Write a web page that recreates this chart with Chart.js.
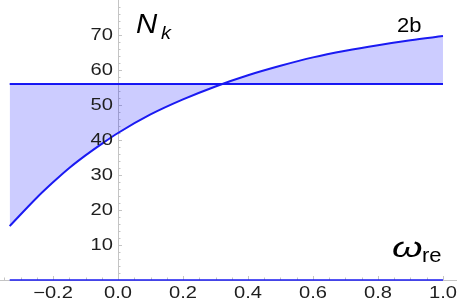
<!DOCTYPE html>
<html>
<head>
<meta charset="utf-8">
<script src="https://cdn.jsdelivr.net/npm/chart.js@4/dist/chart.umd.min.js"></script>
<style>
  html, body { margin: 0; padding: 0; background: #fff; }
  #wrap { width: 457px; height: 306px; }
</style>
</head>
<body>
<div id="wrap"><canvas id="grafico" width="457" height="306"></canvas></div>
<script>
// valores
const curveX = [-0.3333, -0.25, -0.2, -0.15, -0.1, -0.05, 0, 0.1, 0.2, 0.3, 0.4, 0.5, 0.6, 0.7, 0.8, 0.9, 1.0];
const curveN = [15.4, 23.5, 27.9, 32.0, 35.6, 38.9, 42.0, 47.3, 51.6, 55.3, 58.5, 61.2, 63.6, 65.5, 67.1, 68.5, 69.7];
const levelX = [-0.3333, 1.0];
const levelN = [56, 56];
const baseN = [0, 0];
const xTicks = [-0.2, 0, 0.2, 0.4, 0.6, 0.8, 1.0];
const xTickLabels = ["\u22120.2", "0.0", "0.2", "0.4", "0.6", "0.8", "1.0"];
const yTicks = [10, 20, 30, 40, 50, 60, 70];

const azul = "#1a1af2";
const preenchimento = "rgba(0, 0, 255, 0.2)";

// texto com esticamento horizontal (a figura original é mais larga)
function texto(c, s, x, y, font, align, sx) {
  c.save();
  c.translate(x, y);
  c.scale(sx, 1);
  c.font = font;
  c.textAlign = align;
  c.fillText(s, 0, 0);
  c.restore();
}

// eixos ao estilo Mathematica (cruzando na origem)
const eixos = {
  id: "eixos",
  beforeDatasetsDraw(chart) {
    const c = chart.ctx, xs = chart.scales.x, ys = chart.scales.y;
    const x0 = xs.getPixelForValue(0), y0 = ys.getPixelForValue(0);
    c.save();
    c.strokeStyle = "#c4c4c4";
    c.lineWidth = 1;
    c.beginPath();
    c.moveTo(Math.round(x0) + 0.5, 0);
    c.lineTo(Math.round(x0) + 0.5, y0);
    c.moveTo(0, Math.round(y0) + 0.5);
    c.lineTo(chart.width, Math.round(y0) + 0.5);
    // marcas do eixo y
    for (let v = 2; v < 80; v += 2) {
      const p = Math.round(ys.getPixelForValue(v)) + 0.5;
      const len = v % 10 === 0 ? 4 : 2.5;
      c.moveTo(x0, p);
      c.lineTo(x0 + len, p);
    }
    // marcas do eixo x
    for (let i = -7; i <= 20; i++) {
      const v = i * 0.05;
      const p = Math.round(xs.getPixelForValue(v)) + 0.5;
      const len = i % 4 === 0 ? 4 : 2.5;
      c.moveTo(p, y0);
      c.lineTo(p, y0 - len);
    }
    c.stroke();
    c.restore();
  },
  afterDatasetsDraw(chart) {
    const c = chart.ctx, xs = chart.scales.x, ys = chart.scales.y;
    const x0 = xs.getPixelForValue(0), y0 = ys.getPixelForValue(0);
    const fonteTick = "16.5px 'Liberation Sans', Arial, sans-serif";
    c.save();
    c.fillStyle = "#1e1e1e";
    c.textBaseline = "middle";
    yTicks.forEach(v => texto(c, String(v), x0 - 5, ys.getPixelForValue(v), fonteTick, "right", 1.22));
    xTicks.forEach((v, i) => texto(c, xTickLabels[i], xs.getPixelForValue(v), y0 + 13, fonteTick, "center", 1.22));

    // rótulos dos eixos
    c.fillStyle = "#000";
    c.textBaseline = "alphabetic";
    texto(c, "N", x0 + 18, 33, "italic 28px 'Liberation Sans', Arial, sans-serif", "left", 1.05);
    texto(c, "k", x0 + 43, 39, "italic 19px 'Liberation Sans', Arial, sans-serif", "left", 1.05);
    texto(c, "\u03c9", 392, 257, "italic 28px 'Liberation Sans', Arial, sans-serif", "left", 1.4);
    texto(c, "re", 422, 262, "21px 'Liberation Sans', Arial, sans-serif", "left", 1.05);
    texto(c, "2b", 397, 32, "20px 'Liberation Sans', Arial, sans-serif", "left", 1.1);
    c.restore();
  }
};

const ctx = document.getElementById("grafico").getContext("2d");
new Chart(ctx, {
  type: "line",
  data: {
    datasets: [
      {
        label: "curva",
        data: curveX.map((x, i) => ({ x: x, y: curveN[i] })),
        borderColor: azul,
        borderWidth: 2,
        backgroundColor: preenchimento,
        fill: "+1",
        cubicInterpolationMode: "monotone",
        pointRadius: 0
      },
      {
        label: "nivel",
        data: levelX.map((x, i) => ({ x: x, y: levelN[i] })),
        borderColor: azul,
        borderWidth: 2,
        fill: false,
        pointRadius: 0
      },
      {
        label: "base",
        data: levelX.map((x, i) => ({ x: x, y: baseN[i] })),
        borderColor: azul,
        borderWidth: 1.6,
        fill: false,
        pointRadius: 0
      }
    ]
  },
  options: {
    responsive: false,
    animation: false,
    devicePixelRatio: 1,
    layout: { padding: 0 },
    plugins: {
      legend: { display: false },
      tooltip: { enabled: false }
    },
    scales: {
      x: { type: "linear", display: false, min: -0.3631, max: 1.0431 },
      y: { type: "linear", display: false, min: -7.43, max: 80 }
    }
  },
  plugins: [eixos]
});
</script>
</body>
</html>
